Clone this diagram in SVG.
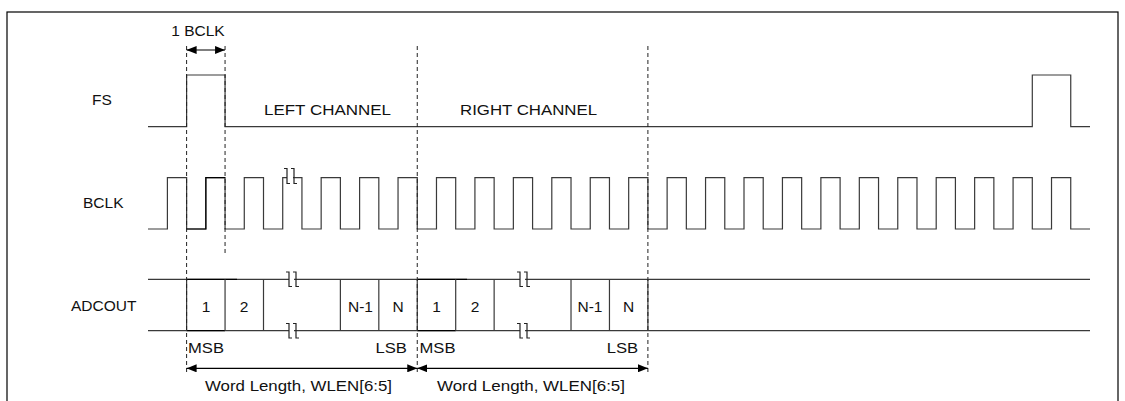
<svg xmlns="http://www.w3.org/2000/svg" width="1125" height="401" viewBox="0 0 1125 401">
<defs>
<marker id="ah" viewBox="0 0 10 8" refX="10" refY="4" markerWidth="10" markerHeight="8" markerUnits="userSpaceOnUse" orient="auto-start-reverse">
<path d="M0,0 L10,4 L0,8 z" fill="#000"/>
</marker>
<style>
.w{fill:none;stroke:#3a3a3a;stroke-width:1.2}
.d{fill:none;stroke:#000;stroke-width:1.2}
.dash{fill:none;stroke:#222;stroke-width:1;stroke-dasharray:4,3}
.arr{fill:none;stroke:#000;stroke-width:1.2}
.t{font-family:"Liberation Sans",Arial,sans-serif;font-size:15.5px;fill:#111}
.m{text-anchor:middle}
.brk{fill:none;stroke:#222;stroke-width:1.2}
</style>
</defs>
<rect x="7" y="12" width="1111" height="420" fill="#fff" stroke="#000" stroke-width="1.2"/>

<g id="labels">
<text class="t" x="92" y="105">FS</text>
<text class="t" x="83" y="208">BCLK</text>
<text class="t" x="71" y="311">ADCOUT</text>
</g>

<g id="fs">
<path class="w" d="M148,126.7 H186.6 V75 H225.06 V126.7 H1032.3 V75 H1070.74 V126.7 H1090"/>
</g>

<g id="bclk">
<path class="w" d="M148,229 H167.4
v-51.3 h19.22 v51.3 h19.22 v-51.3 h19.22 v51.3 h19.22 v-51.3 h19.22 v51.3 h19.22 v-51.3 h19.22 v51.3 h19.22 v-51.3 h19.22 v51.3 h19.22 v-51.3 h19.22 v51.3 h19.22
v-51.3 h19.22 v51.3 h19.22 v-51.3 h19.22 v51.3 h19.22 v-51.3 h19.22 v51.3 h19.22 v-51.3 h19.22 v51.3 h19.22 v-51.3 h19.22 v51.3 h19.22 v-51.3 h19.22 v51.3 h19.22
v-51.3 h19.22 v51.3 h19.22 v-51.3 h19.22 v51.3 h19.22 v-51.3 h19.22 v51.3 h19.22 v-51.3 h19.22 v51.3 h19.22 v-51.3 h19.22 v51.3 h19.22 v-51.3 h19.22 v51.3 h19.22
v-51.3 h19.22 v51.3 h19.22 v-51.3 h19.22 v51.3 h19.22 v-51.3 h19.22 v51.3 h19.22 v-51.3 h19.22 v51.3 h19.22 v-51.3 h19.22 v51.3 h19.22 v-51.3 h19.22 v51.3 H1090"/>
<path class="d" d="M186.6,229 H205.84 V177.7 H225.06"/>
<rect x="287" y="170" width="6" height="14" fill="#fff"/>
<path class="brk" d="M284,168.5 h3 v15 h3 M291,168.5 h3 v15 h3"/>
</g>

<g id="adcout">
<path class="w" d="M148,279.3 H1090 M148,330.7 H1090"/>
<path class="d" d="M186.6,279.3 H237 M186.6,330.7 H225 M417.3,279.3 H467 M417.3,330.7 H455.7"/>
<path class="w" d="M186.6,279.3 V330.7 M225.06,279.3 V330.7 M263.5,279.3 V330.7 M340.38,279.3 V330.7 M378.82,279.3 V330.7 M417.26,279.3 V330.7 M455.7,279.3 V330.7 M494.14,279.3 V330.7 M571.02,279.3 V330.7 M609.46,279.3 V330.7 M647.9,279.3 V330.7"/>
<rect x="289" y="273" width="5" height="13" fill="#fff"/>
<rect x="289" y="324" width="5" height="13" fill="#fff"/>
<rect x="520" y="273" width="5" height="13" fill="#fff"/>
<rect x="520" y="324" width="5" height="13" fill="#fff"/>
<path class="brk" d="M286,272 h3 v14.5 h3 M293,272 h3 v14.5 h3 M286,323.5 h3 v14.5 h3 M293,323.5 h3 v14.5 h3 M517,272 h3 v14.5 h3 M524,272 h3 v14.5 h3 M517,323.5 h3 v14.5 h3 M524,323.5 h3 v14.5 h3"/>
<text class="t m" x="206" y="311.5">1</text>
<text class="t m" x="244" y="311.5">2</text>
<text class="t m" x="360.5" y="311.5">N-1</text>
<text class="t m" x="398" y="311.5">N</text>
<text class="t m" x="436.5" y="311.5">1</text>
<text class="t m" x="475" y="311.5">2</text>
<text class="t m" x="590" y="311.5">N-1</text>
<text class="t m" x="628.5" y="311.5">N</text>
<text class="t" x="188" y="353" textLength="36" lengthAdjust="spacingAndGlyphs">MSB</text>
<text class="t" x="375.5" y="353" textLength="31.5" lengthAdjust="spacingAndGlyphs">LSB</text>
<text class="t" x="419.5" y="353" textLength="36" lengthAdjust="spacingAndGlyphs">MSB</text>
<text class="t" x="606.7" y="353" textLength="31.5" lengthAdjust="spacingAndGlyphs">LSB</text>
</g>

<g id="annotations">
<text class="t m" x="198" y="36">1 BCLK</text>
<text class="t" x="264" y="115" textLength="127" lengthAdjust="spacingAndGlyphs">LEFT CHANNEL</text>
<text class="t" x="460" y="115" textLength="137" lengthAdjust="spacingAndGlyphs">RIGHT CHANNEL</text>
<text class="t" x="205" y="391" textLength="187" lengthAdjust="spacingAndGlyphs">Word Length, WLEN[6:5]</text>
<text class="t" x="437" y="391" textLength="188" lengthAdjust="spacingAndGlyphs">Word Length, WLEN[6:5]</text>
</g>

<g id="connectors">
<path class="dash" d="M186.6,46 V372 M225.06,46 V255 M417.26,46 V372 M647.9,46 V372"/>
<line class="arr" x1="186.6" y1="50" x2="225.06" y2="50" marker-start="url(#ah)" marker-end="url(#ah)"/>
<line class="arr" x1="186.6" y1="368.3" x2="417.26" y2="368.3" marker-start="url(#ah)" marker-end="url(#ah)"/>
<line class="arr" x1="417.26" y1="368.3" x2="647.9" y2="368.3" marker-start="url(#ah)" marker-end="url(#ah)"/>
</g>
</svg>
